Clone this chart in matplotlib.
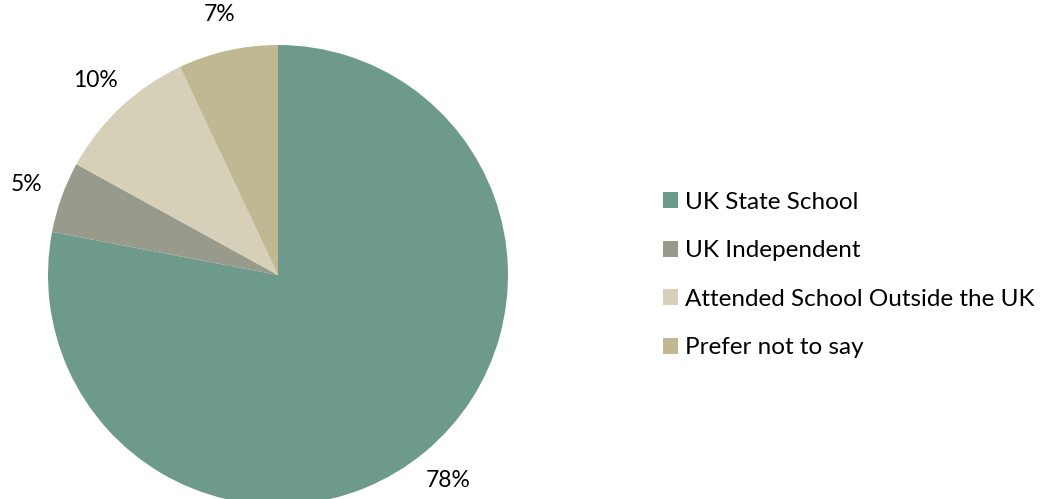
import matplotlib.pyplot as plt
from matplotlib.patches import Patch

labels = ['UK State School', 'UK Independent', 'Attended School Outside the UK', 'Prefer not to say']
values = [78, 5, 10, 7]
colors = ['#6D9A8A', '#989A8C', '#D5D0B7', '#C0B893']

plt.rcParams['font.family'] = ['Lato', 'DejaVu Sans']

fig = plt.figure(figsize=(10.41, 4.99), dpi=100)
# pie centre ~ (278, 275) px, radius ~230 px
ax = fig.add_axes([48 / 1041, -6 / 499, 460 / 1041, 460 / 499])
ax.pie(values, colors=colors, startangle=90, counterclock=False,
       autopct='%1.0f%%', pctdistance=1.16, radius=1,
       textprops={'fontsize': 16.5, 'color': 'black'},
       wedgeprops={'linewidth': 0})
ax.set_xlim(-1, 1)
ax.set_ylim(-1, 1)
ax.set_aspect('auto')
ax.axis('off')
for t in ax.texts:
    t.set_clip_on(False)

handles = [Patch(facecolor=c, edgecolor='none') for c in colors]
fig.legend(handles, labels, loc='center left', bbox_to_anchor=(663 / 1041, 224 / 499),
           frameon=False, fontsize=17.5, handlelength=0.62, handleheight=0.62,
           handletextpad=0.3, labelspacing=1.13, borderpad=0, borderaxespad=0)

fig.savefig('out.png', dpi=100)
